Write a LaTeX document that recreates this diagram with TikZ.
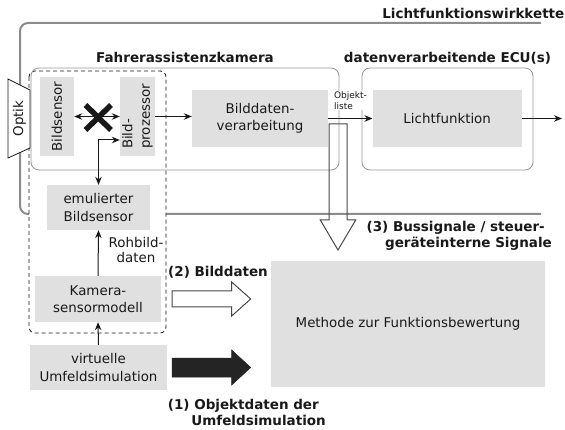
\documentclass[tikz,border=0pt]{standalone}
\usepackage{fontspec}
\setmainfont{DejaVu Sans}
\usetikzlibrary{arrows.meta}
\definecolor{boxgray}{RGB}{224,224,224}
\definecolor{framegray}{RGB}{140,140,140}
\definecolor{lightframe}{RGB}{150,150,150}
\definecolor{ink}{RGB}{25,25,25}
\begin{document}
\begin{tikzpicture}[x=1pt, y=-1pt,
  font=\fontsize{13.4}{17.4}\selectfont, text=ink,
  gbox/.style={fill=boxgray, inner sep=0pt, align=center},
  boldlabel/.style={font=\fontsize{13.5}{15.5}\selectfont\bfseries, inner sep=0pt},
  conn/.style={draw=ink, line width=1pt, -{Stealth[length=8pt,width=6.5pt]}},
  biconn/.style={draw=ink, line width=1pt, {Stealth[length=8pt,width=6.5pt]}-{Stealth[length=8pt,width=6.5pt]}},
  ecuframe/.style={draw=lightframe, line width=0.8pt, rounded corners=8pt},
  hollow/.style={draw=ink!80, line width=1pt, line join=miter}]
\useasboundingbox (0,0) rectangle (565,430);

% outer bracket of the light-function chain
\draw[framegray, line width=2pt, rounded corners=8pt]
  (541,23) -- (20,23) -- (20,214) -- (541,214);
\node[boldlabel, anchor=base east] (wk) at (564.5,18.3) {Lichtfunktionswirkkette};

% dashed region of the emulated sensor path
\draw[ink, line width=0.8pt, dash pattern=on 4pt off 3pt, fill=white, rounded corners=6pt]
  (29,71) rectangle (166,333);

% camera and ECU housings
\draw[ecuframe] (31,68) rectangle (339,170);
\draw[ecuframe] (362,68) rectangle (533,170);
\node[boldlabel, anchor=base] (camlbl) at (185,62.7) {Fahrerassistenzkamera};
\node[boldlabel, anchor=base] (eculbl) at (447.5,62.7) {datenverarbeitende ECU(s)};

% lens
\draw[ink, line width=0.8pt, fill=white] (8,79) -- (30,90) -- (30,148) -- (8,158) -- cycle;
\node[rotate=90, inner sep=0pt] (optik) at (19.5,118.5) {Optik};

% function blocks
\node[gbox, minimum width=34pt, minimum height=79pt] (bs) at (57,116.5) {};
\node[rotate=90, inner sep=0pt] at (bs) {Bildsensor};
\node[gbox, minimum width=35pt, minimum height=79pt] (bp) at (137.5,116.5) {};
\node[rotate=90, inner sep=0pt, align=left] at (bp) {Bild-\\prozessor};
\node[gbox, minimum width=136pt, minimum height=57pt] (bdv) at (260,118.5) {Bilddaten-\\verarbeitung};
\node[gbox, minimum width=149pt, minimum height=57pt] (lf) at (447.2,118.5) {Lichtfunktion};
\node[gbox, minimum width=103pt, minimum height=45pt] (emu) at (98.5,207.5) {emulierter\\Bildsensor};
\node[gbox, minimum width=126pt, minimum height=46pt] (ksm) at (98,299) {Kamera-\\sensormodell};
\node[gbox, minimum width=137pt, minimum height=45pt] (vus) at (98.5,367.5) {virtuelle\\Umfeldsimulation};
\node[gbox, minimum width=274pt, minimum height=126pt] (meth) at (408,324) {Methode zur Funktionsbewertung};

% signal connections
\draw[biconn] (bs.east) -- (bp.west);
\draw[ink, line width=5.5pt] (85.5,105) -- (111,130) (85.5,130) -- (111,105);
\draw[conn] (bp.east) -- (bp.east -| bdv.west);
\draw[conn] (bdv.east) -- (lf.west);
\node[fill=white, inner sep=1pt, align=left, font=\fontsize{9}{11}\selectfont] (ol) at (350.5,100.5) {Objekt-\\liste};
\coordinate (out) at (562,118.5);
\draw[conn] (lf.east) -- (out);
\draw[biconn] (emu.north) |- (bp.west |- 0,140);
\draw[conn] (ksm.north) -- (emu.south);
\draw[conn] (vus.north) -- (ksm.south);
\node[align=center, inner sep=0pt, font=\fontsize{13.4}{15}\selectfont] (rb) at (136,250.5) {Rohbild-\\daten};

% (3) bus signals, hollow arrow downwards
\draw[hollow] (329,124) -- (347,124) -- (347,220) -- (355.7,220) -- (338,250)
  -- (320.3,220) -- (329,220) -- cycle;
\node[boldlabel, align=right, anchor=east] (bus) at (552,236)
  {(3) Bussignale / steuer-\kern7pt\\geräteinterne Signale};

% (2) image data, hollow arrow
\draw[hollow] (172,291) -- (231.7,291) -- (231.7,282) -- (250.7,299) -- (231.7,316)
  -- (231.7,307) -- (172,307) -- cycle;
\node[boldlabel, anchor=base west] (bd) at (168,277) {(2) Bilddaten};

% (1) object data, filled arrow
\draw[fill=ink!95, draw=ink!95, line width=0.5pt] (172,358) -- (231.7,358) -- (231.7,350)
  -- (250.7,367.5) -- (231.7,385) -- (231.7,377) -- (172,377) -- cycle;
\node[boldlabel, align=right, anchor=east] (od) at (326,412.5)
  {(1) Objektdaten der\kern7pt\\Umfeldsimulation};
\end{tikzpicture}
\end{document}
